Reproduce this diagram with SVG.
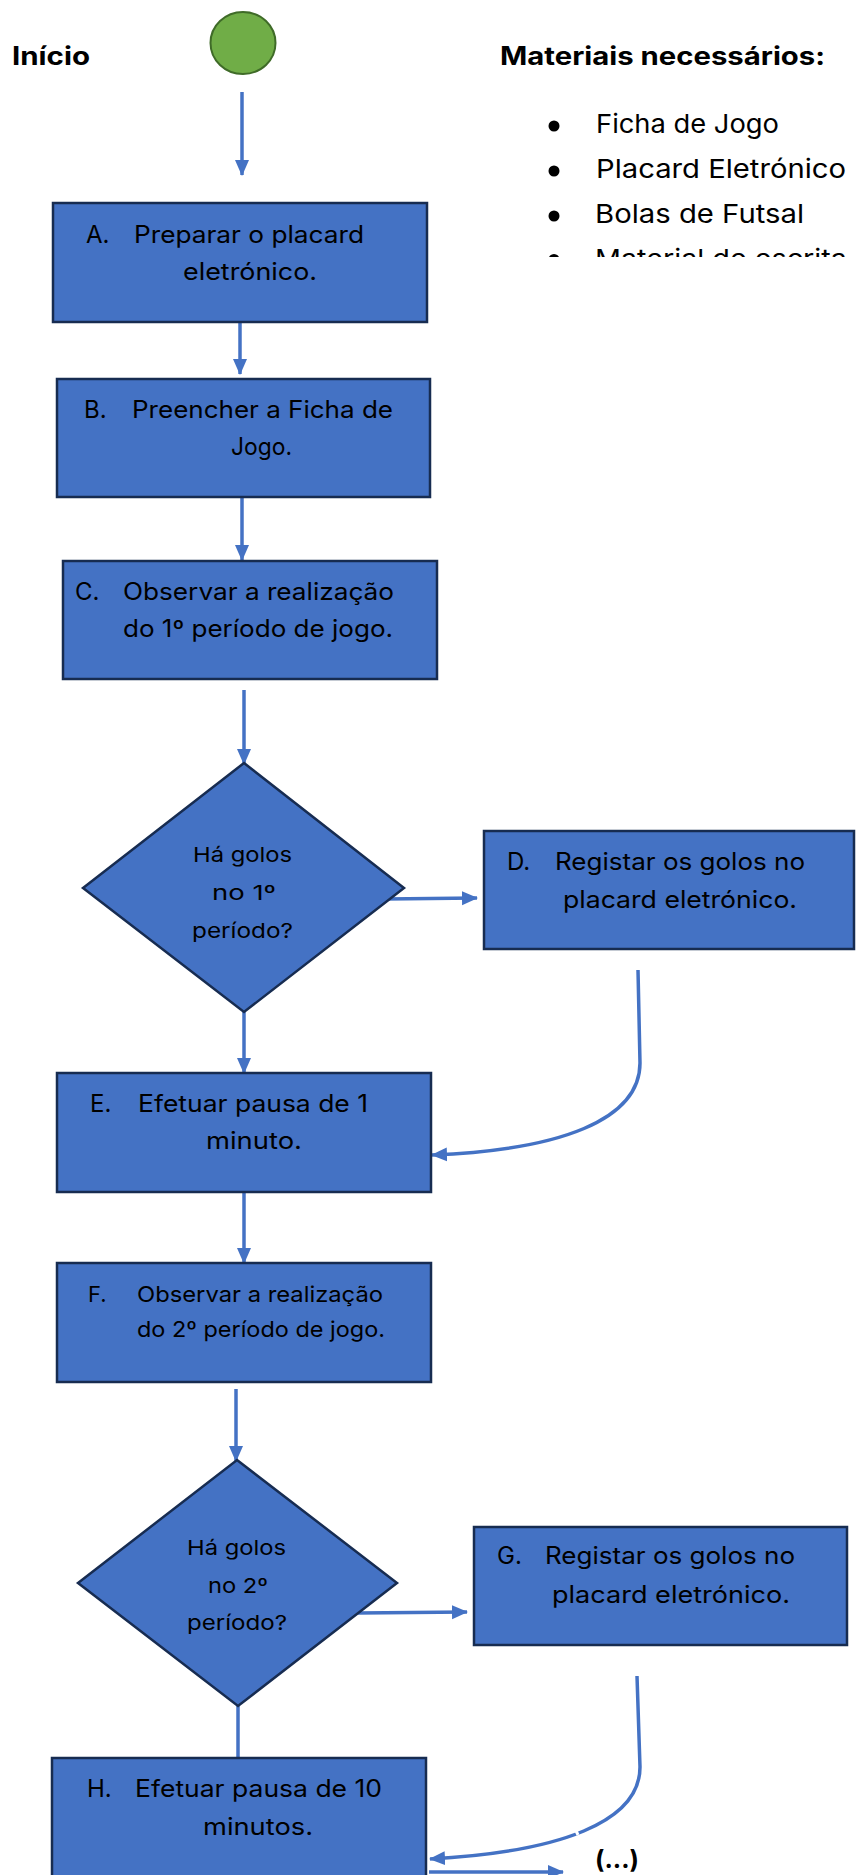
<svg xmlns="http://www.w3.org/2000/svg" width="856" height="1875" viewBox="0 0 856 1875">
<style>
.box{fill:#4472C4;stroke:#172C51;stroke-width:2.5}
.t{font-family:Inter,"DejaVu Sans","Liberation Sans",sans-serif;font-size:24px;fill:#000}
.tf{font-family:Inter,"DejaVu Sans","Liberation Sans",sans-serif;font-size:22px;fill:#000}
.td{font-family:Inter,"DejaVu Sans","Liberation Sans",sans-serif;font-size:20.5px;fill:#000}
.tb{font-family:Inter,"DejaVu Sans","Liberation Sans",sans-serif;font-size:26px;fill:#000}
.th{font-family:Inter,"DejaVu Sans","Liberation Sans",sans-serif;font-size:25px;font-weight:bold;fill:#000}
.c{fill:none;stroke:#4472C4;stroke-width:3.5}
</style>
<defs>
<marker id="ah" markerUnits="userSpaceOnUse" markerWidth="16" markerHeight="16" viewBox="0 0 16 16" refX="15" refY="8" orient="auto">
<path d="M0,1 L16,8 L0,15 Z" fill="#4472C4"/>
</marker>
<clipPath id="clipMat"><rect x="500" y="230" width="356" height="27"/></clipPath>
</defs>

<g id="inicio">
<text class="th" x="12" y="65" textLength="78" lengthAdjust="spacingAndGlyphs">Início</text>
<ellipse cx="243" cy="43" rx="32.5" ry="31" fill="#70AD47" stroke="#3F6B28" stroke-width="2"/>
</g>

<g id="materiais">
<text class="th" x="500" y="65" textLength="325" lengthAdjust="spacingAndGlyphs">Materiais necessários:</text>
<circle cx="554" cy="126" r="5.5" fill="#000"/>
<text class="tb" x="596" y="133" textLength="183" lengthAdjust="spacingAndGlyphs">Ficha de Jogo</text>
<circle cx="554" cy="171" r="5.5" fill="#000"/>
<text class="tb" x="596" y="178" textLength="250" lengthAdjust="spacingAndGlyphs">Placard Eletrónico</text>
<circle cx="554" cy="216" r="5.5" fill="#000"/>
<text class="tb" x="595" y="223" textLength="209" lengthAdjust="spacingAndGlyphs">Bolas de Futsal</text>
<g clip-path="url(#clipMat)">
<circle cx="554" cy="259.5" r="5.5" fill="#000"/>
<text class="tb" x="595" y="268" textLength="252" lengthAdjust="spacingAndGlyphs">Material de escrita</text>
</g>
</g>

<g id="connectors">
<line class="c" x1="242" y1="92" x2="242" y2="175" marker-end="url(#ah)"/>
<line class="c" x1="240" y1="322" x2="240" y2="374" marker-end="url(#ah)"/>
<line class="c" x1="242" y1="497" x2="242" y2="560" marker-end="url(#ah)"/>
<line class="c" x1="244" y1="690" x2="244" y2="764" marker-end="url(#ah)"/>
<line class="c" x1="385" y1="899" x2="477" y2="898" marker-end="url(#ah)"/>
<line class="c" x1="244" y1="1012" x2="244" y2="1073" marker-end="url(#ah)"/>
<path class="c" d="M638,970 L640,1063 C640,1120 560,1150 432,1155" marker-end="url(#ah)"/>
<line class="c" x1="244" y1="1192" x2="244" y2="1263" marker-end="url(#ah)"/>
<line class="c" x1="236" y1="1389" x2="236" y2="1461" marker-end="url(#ah)"/>
<line class="c" x1="358" y1="1613" x2="467" y2="1612" marker-end="url(#ah)"/>
<line class="c" x1="238" y1="1706" x2="238" y2="1758"/>
<path class="c" d="M637,1676 L640,1767 C640,1822 560,1852 430,1859" marker-end="url(#ah)"/>
<line x1="572" y1="1822" x2="578" y2="1835" stroke="#fff" stroke-width="3"/>
<line class="c" x1="429" y1="1872" x2="563" y2="1872" marker-end="url(#ah)"/>
</g>

<g id="nodeA">
<rect class="box" x="53" y="203" width="374" height="119"/>
<text class="t" x="86" y="243">A.</text>
<text class="t" x="134" y="243" textLength="230" lengthAdjust="spacingAndGlyphs">Preparar o placard</text>
<text class="t" x="183" y="280" textLength="134" lengthAdjust="spacingAndGlyphs">eletrónico.</text>
</g>

<g id="nodeB">
<rect class="box" x="57" y="379" width="373" height="118"/>
<text class="t" x="84" y="418">B.</text>
<text class="t" x="132" y="418" textLength="261" lengthAdjust="spacingAndGlyphs">Preencher a Ficha de</text>
<text class="t" x="231" y="455" textLength="61" lengthAdjust="spacingAndGlyphs">Jogo.</text>
</g>

<g id="nodeC">
<rect class="box" x="63" y="561" width="374" height="118"/>
<text class="t" x="75" y="600">C.</text>
<text class="t" x="123" y="600" textLength="271" lengthAdjust="spacingAndGlyphs">Observar a realização</text>
<text class="t" x="123" y="637" textLength="270" lengthAdjust="spacingAndGlyphs">do 1º período de jogo.</text>
</g>

<g id="decision1">
<polygon class="box" points="244,763 404,888 244,1012 83,888"/>
<text class="td" x="193" y="862" textLength="99" lengthAdjust="spacingAndGlyphs">Há golos</text>
<text class="td" x="212" y="900" textLength="64" lengthAdjust="spacingAndGlyphs">no 1º</text>
<text class="td" x="192" y="938" textLength="101" lengthAdjust="spacingAndGlyphs">período?</text>
</g>

<g id="nodeD">
<rect class="box" x="484" y="831" width="370" height="118"/>
<text class="t" x="507" y="870">D.</text>
<text class="t" x="555" y="870" textLength="250" lengthAdjust="spacingAndGlyphs">Registar os golos no</text>
<text class="t" x="563" y="908" textLength="234" lengthAdjust="spacingAndGlyphs">placard eletrónico.</text>
</g>

<g id="nodeE">
<rect class="box" x="57" y="1073" width="374" height="119"/>
<text class="t" x="90" y="1112">E.</text>
<text class="t" x="138" y="1112" textLength="230" lengthAdjust="spacingAndGlyphs">Efetuar pausa de 1</text>
<text class="t" x="206" y="1149" textLength="96" lengthAdjust="spacingAndGlyphs">minuto.</text>
</g>

<g id="nodeF">
<rect class="box" x="57" y="1263" width="374" height="119"/>
<text class="tf" x="88" y="1302">F.</text>
<text class="tf" x="137" y="1302" textLength="246" lengthAdjust="spacingAndGlyphs">Observar a realização</text>
<text class="tf" x="137" y="1337" textLength="248" lengthAdjust="spacingAndGlyphs">do 2º período de jogo.</text>
</g>

<g id="decision2">
<polygon class="box" points="237,1460 397,1583 238,1706 78,1583"/>
<text class="td" x="187" y="1555" textLength="99" lengthAdjust="spacingAndGlyphs">Há golos</text>
<text class="td" x="208" y="1593" textLength="60" lengthAdjust="spacingAndGlyphs">no 2º</text>
<text class="td" x="187" y="1630" textLength="100" lengthAdjust="spacingAndGlyphs">período?</text>
</g>

<g id="nodeG">
<rect class="box" x="474" y="1527" width="373" height="118"/>
<text class="t" x="497" y="1564">G.</text>
<text class="t" x="545" y="1564" textLength="250" lengthAdjust="spacingAndGlyphs">Registar os golos no</text>
<text class="t" x="552" y="1603" textLength="238" lengthAdjust="spacingAndGlyphs">placard eletrónico.</text>
</g>

<g id="nodeH">
<rect class="box" x="52" y="1758" width="374" height="140"/>
<text class="t" x="87" y="1797">H.</text>
<text class="t" x="135" y="1797" textLength="247" lengthAdjust="spacingAndGlyphs">Efetuar pausa de 10</text>
<text class="t" x="203" y="1835" textLength="110" lengthAdjust="spacingAndGlyphs">minutos.</text>
</g>

<g id="continua">
<text class="th" x="595" y="1868" textLength="44" lengthAdjust="spacingAndGlyphs">(...)</text>
</g>
</svg>
